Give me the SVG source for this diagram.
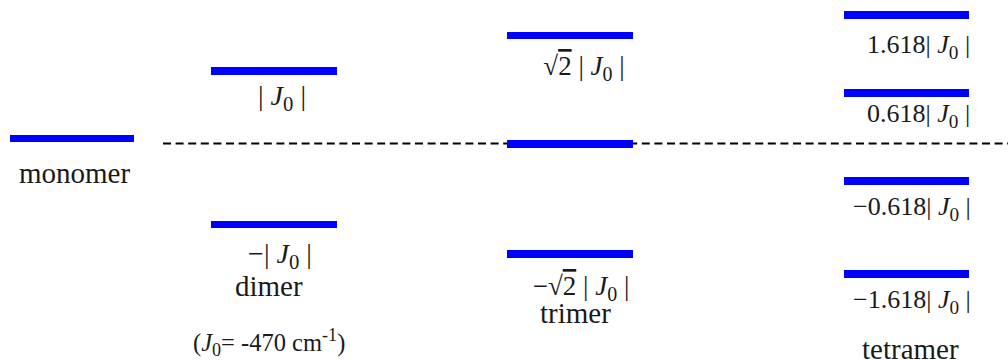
<svg xmlns="http://www.w3.org/2000/svg" width="1008" height="360" viewBox="0 0 1008 360">
<style>
.lvl{fill:#0000ff}
.t{font-family:"Liberation Serif","Times New Roman",serif;fill:#1a1a1a}
.name{font-size:29px}
.e{font-size:28px}
.es{font-size:26px}
.et{font-size:27px}
.it{font-style:italic}
.sub{font-size:0.74em}
.ov{text-decoration:overline}
.dash{stroke:#000;stroke-width:2;stroke-dasharray:8 4.6;fill:none}
</style>
<g id="reference-line">
<line class="dash" x1="163" y1="143.5" x2="1008" y2="143.5"/>
</g>
<g id="monomer">
<rect class="lvl" x="10" y="135" width="124" height="7"/>
<text class="t name" x="19" y="183">monomer</text>
</g>
<g id="dimer">
<rect class="lvl" x="211" y="67" width="126" height="8"/>
<text class="t e" x="282" y="105" text-anchor="middle">| <tspan class="it">J</tspan><tspan class="sub" dy="6">0</tspan><tspan dy="-6"> |</tspan></text>
<rect class="lvl" x="211" y="221" width="126" height="7"/>
<text class="t e" x="280" y="263" text-anchor="middle">−| <tspan class="it">J</tspan><tspan class="sub" dy="6">0</tspan><tspan dy="-6"> |</tspan></text>
<text class="t name" x="235" y="296">dimer</text>
<text class="t" x="193" y="351" font-size="24.5">(<tspan class="it">J</tspan><tspan class="sub" dy="5">0</tspan><tspan dy="-5">= -470 cm</tspan><tspan class="sub" dy="-10">-1</tspan><tspan dy="10">)</tspan></text>
</g>
<g id="trimer">
<rect class="lvl" x="507" y="32" width="126" height="7"/>
<text class="t et" x="584" y="75" text-anchor="middle">√<tspan class="ov">2</tspan> | <tspan class="it">J</tspan><tspan class="sub" dy="6">0</tspan><tspan dy="-6"> |</tspan></text>
<rect class="lvl" x="507" y="140" width="126" height="8"/>
<rect class="lvl" x="507" y="250" width="126" height="8"/>
<text class="t et" x="581" y="295" text-anchor="middle">−√<tspan class="ov">2</tspan> | <tspan class="it">J</tspan><tspan class="sub" dy="6">0</tspan><tspan dy="-6"> |</tspan></text>
<text class="t name" x="540" y="323">trimer</text>
</g>
<g id="tetramer">
<rect class="lvl" x="844" y="11" width="125" height="8"/>
<text class="t es" x="867" y="53">1.618| <tspan class="it">J</tspan><tspan class="sub" dy="6">0</tspan><tspan dy="-6"> |</tspan></text>
<rect class="lvl" x="844" y="89" width="125" height="8"/>
<text class="t es" x="867" y="122">0.618| <tspan class="it">J</tspan><tspan class="sub" dy="6">0</tspan><tspan dy="-6"> |</tspan></text>
<rect class="lvl" x="844" y="177" width="125" height="8"/>
<text class="t es" x="853" y="215">−0.618| <tspan class="it">J</tspan><tspan class="sub" dy="6">0</tspan><tspan dy="-6"> |</tspan></text>
<rect class="lvl" x="844" y="270" width="125" height="8"/>
<text class="t es" x="853" y="308">−1.618| <tspan class="it">J</tspan><tspan class="sub" dy="6">0</tspan><tspan dy="-6"> |</tspan></text>
<text class="t name" x="862" y="359">tetramer</text>
</g>
</svg>
